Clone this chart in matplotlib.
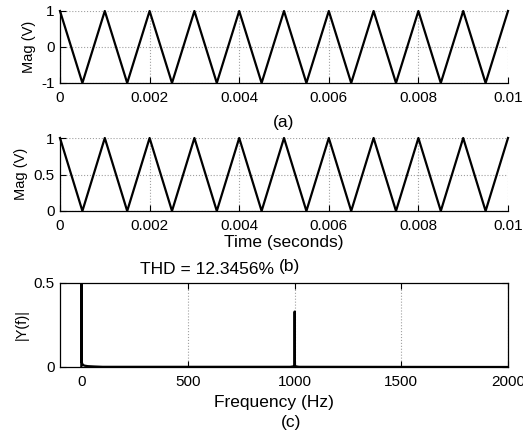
import matplotlib.pyplot as plt

plt.rcParams['font.family'] = ['Liberation Sans', 'DejaVu Sans']
plt.rcParams['font.size'] = 11
plt.rcParams['axes.unicode_minus'] = False

# (a) bipolar triangle wave vertices
t_a = [0, 0.0005, 0.001, 0.0015, 0.002, 0.0025, 0.003, 0.0035, 0.004, 0.0045,
       0.005, 0.0055, 0.006, 0.0065, 0.007, 0.0075, 0.008, 0.0085, 0.009, 0.0095, 0.01]
v_a = [1, -1, 1, -1, 1, -1, 1, -1, 1, -1, 1, -1, 1, -1, 1, -1, 1, -1, 1, -1, 1]

# (b) unipolar triangle wave vertices
t_b = t_a
v_b = [1, 0, 1, 0, 1, 0, 1, 0, 1, 0, 1, 0, 1, 0, 1, 0, 1, 0, 1, 0, 1]

# (c) spectrum
freq = [0, 0, 1, 2, 4, 8, 15, 30, 60, 100, 980, 995, 999, 1000, 1001, 1005, 1020, 2000]
mag = [0, 1.0, 0.065, 0.03, 0.02, 0.012, 0.008, 0.005, 0.003, 0.001,
       0.001, 0.004, 0.01, 0.33, 0.01, 0.004, 0.001, 0]

thd_text = "THD = 12.3456%"

W, H = 523, 437
fig = plt.figure(figsize=(W / 100, H / 100), dpi=100)


def box(l, t, r, b):
    return [l / W, 1 - b / H, (r - l) / W, (b - t) / H]


def ftext(x, y, s, **kw):
    fig.text(x / W, 1 - y / H, s, ha='center', va='center', **kw)


def style(ax, boxed):
    ax.tick_params(direction='in', length=4, width=0.8, top=boxed, right=boxed)
    ax.tick_params(axis='x', pad=6)
    ax.tick_params(axis='y', pad=4)
    ax.grid(True, color='#a0a0a0', linestyle=':', linewidth=0.8)
    for side in ['top', 'right']:
        ax.spines[side].set_visible(boxed)
    for sp in ax.spines.values():
        sp.set_linewidth(0.9)


ax1 = fig.add_axes(box(60, 11, 508, 83))
ax1.plot(t_a, v_a, color='black', lw=1.6, clip_on=False)
ax1.set_xlim(0, 0.01)
ax1.set_ylim(-1, 1)
ax1.set_xticks([0, 0.002, 0.004, 0.006, 0.008, 0.01])
ax1.set_xticklabels(['0', '0.002', '0.004', '0.006', '0.008', '0.01'])
ax1.set_yticks([-1, 0, 1])
style(ax1, False)

ax2 = fig.add_axes(box(60, 138, 508, 211))
ax2.plot(t_b, v_b, color='black', lw=1.6, clip_on=False)
ax2.set_xlim(0, 0.01)
ax2.set_ylim(0, 1)
ax2.set_xticks([0, 0.002, 0.004, 0.006, 0.008, 0.01])
ax2.set_xticklabels(['0', '0.002', '0.004', '0.006', '0.008', '0.01'])
ax2.set_yticks([0, 0.5, 1])
ax2.set_yticklabels(['0', '0.5', '1'])
style(ax2, False)

ax3 = fig.add_axes(box(60, 283, 508, 367))
ax3.plot(freq, mag, color='black', lw=1.6)
ax3.set_xlim(-100, 2000)
ax3.set_ylim(0, 0.5)
ax3.set_xticks([0, 500, 1000, 1500, 2000])
ax3.set_yticks([0, 0.5])
ax3.set_yticklabels(['0', '0.5'])
style(ax3, True)
ax3.grid(False, axis='y')

ftext(29, 47, 'Mag (V)', rotation=90, fontsize=10.5)
ftext(21, 174, 'Mag (V)', rotation=90, fontsize=10.5)
ftext(22, 325, '|Y(f)|', rotation=90, fontsize=10.5)
ftext(284, 122, '(a)', fontsize=12.5)
ftext(284, 242, 'Time (seconds)', fontsize=12.5)
ftext(290, 266, '(b)', fontsize=12.5)
ftext(207, 270, thd_text, fontsize=12.5)
ftext(274, 402, 'Frequency (Hz)', fontsize=12.5)
ftext(291, 423, '(c)', fontsize=12.5)

fig.savefig('out.png', dpi=100)
